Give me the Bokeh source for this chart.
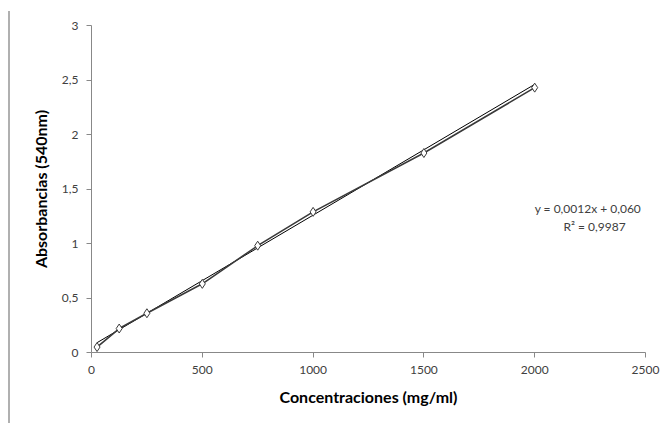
from bokeh.plotting import figure
from bokeh.models import FixedTicker, Label, Div
from bokeh.layouts import column
from bokeh.embed import file_html
from bokeh.resources import INLINE

# Data
conc = [25, 125, 250, 500, 750, 1000, 1500, 2000]
absorb = [0.05, 0.22, 0.36, 0.63, 0.98, 1.29, 1.83, 2.43]

# Linear trend
slope = 0.0012
intercept = 0.060
trend_x = [min(conc), max(conc)]
trend_y = [slope * v + intercept for v in trend_x]

x_ticks = [0, 500, 1000, 1500, 2000, 2500]
x_labels = ["0", "500", "1000", "1500", "2000", "2500"]
y_ticks = [0, 0.5, 1, 1.5, 2, 2.5, 3]
y_labels = ["0", "0,5", "1", "1,5", "2", "2,5", "3"]

eq_text = "y = 0,0012x + 0,060"
r2_text = "R² = 0,9987"

FONT = "Lato"

p = figure(width=660, height=410, output_backend="svg", toolbar_location=None,
           x_range=(0, 2500), y_range=(0, 3),
           min_border_left=91, min_border_right=15, min_border_top=25, min_border_bottom=58)
p.outline_line_color = None
p.xgrid.visible = False
p.ygrid.visible = False

p.line(trend_x, trend_y, line_color="#000000", line_width=1)
p.line(conc, absorb, line_color="#3a3a3a", line_width=1.6)
p.scatter(conc, absorb, marker="diamond", size=9, fill_color="white",
          line_color="#3a3a3a", line_width=1)

for ax in (p.xaxis[0], p.yaxis[0]):
    ax.axis_line_color = "#888888"
    ax.major_tick_line_color = "#888888"
    ax.minor_tick_line_color = None
    ax.major_tick_in = 0
    ax.major_tick_out = 5
    ax.major_label_text_font = FONT
    ax.major_label_text_font_size = "12px"
    ax.major_label_text_color = "#404040"
    ax.axis_label_text_font = FONT
    ax.axis_label_text_font_size = "16px"
    ax.axis_label_text_font_style = "bold"
    ax.axis_label_text_color = "#000000"

p.xaxis.ticker = FixedTicker(ticks=x_ticks)
p.xaxis.major_label_overrides = dict(zip(x_ticks, x_labels))
p.yaxis.ticker = FixedTicker(ticks=y_ticks)
p.yaxis.major_label_overrides = dict(zip(y_ticks, y_labels))
p.xaxis.axis_label = "Concentraciones (mg/ml)"
p.yaxis.axis_label = "Absorbancias (540nm)"
p.xaxis.major_label_standoff = 8
p.yaxis.major_label_standoff = 8
p.xaxis.axis_label_standoff = 10
p.yaxis.axis_label_standoff = 9

p.add_layout(Label(x=2240, y=1.32, text=eq_text, text_align="center",
                   text_baseline="middle", text_font=FONT, text_font_size="12px",
                   text_color="#404040"))
p.add_layout(Label(x=2270, y=1.155, text=r2_text, text_align="center",
                   text_baseline="middle", text_font=FONT, text_font_size="12px",
                   text_color="#404040"))

edge = Div(text='<div style="position:fixed;left:8px;top:11px;width:2px;'
                'height:412px;background:#b0b0b0"></div>',
           width=1, height=1)
layout = column(p, edge)

open("out.html", "w").write(file_html(layout, INLINE))
